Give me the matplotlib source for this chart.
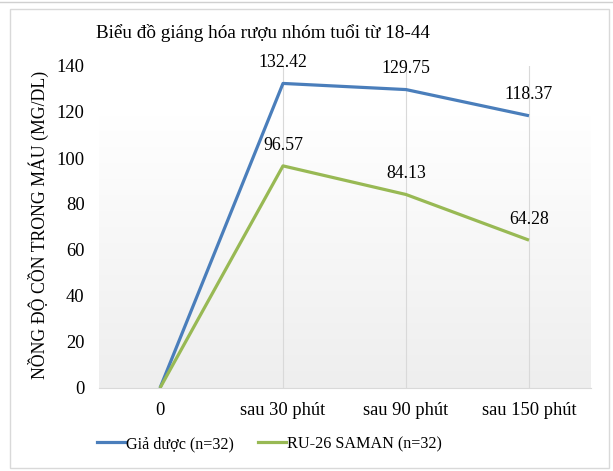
import matplotlib
matplotlib.use("Agg")
import matplotlib.pyplot as plt
import numpy as np
from matplotlib.patches import Rectangle
from matplotlib.lines import Line2D
from matplotlib.colors import LinearSegmentedColormap

categories = ["0", "sau 30 phút", "sau 90 phút", "sau 150 phút"]
placebo = [0, 132.42, 129.75, 118.37]
ru26 = [0, 96.57, 84.13, 64.28]
placebo_labels = ["", "132.42", "129.75", "118.37"]
ru26_labels = ["", "96.57", "84.13", "64.28"]
series_names = ["Giả dược (n=32)", "RU-26 SAMAN (n=32)"]
title = "Biểu đồ giáng hóa rượu nhóm tuổi từ 18-44"
ylabel = "NỒNG ĐỘ CỒN TRONG MÁU (MG/DL)"

plt.rcParams['font.family'] = ['Liberation Serif', 'DejaVu Serif']

W, H = 613, 471
fig = plt.figure(figsize=(W/100, H/100), dpi=100)
fig.patch.set_facecolor('white')

# outer frame
fig.add_artist(Rectangle((10/W, 1 - 468/H), 599/W, 459/H, transform=fig.transFigure,
                         fill=False, edgecolor='#d9d9d9', linewidth=1))
fig.add_artist(Line2D([0, 1], [1 - 2/H, 1 - 2/H], transform=fig.transFigure,
                      color='#d0d0d0', linewidth=1))

left, right = 98.5/W, 590.5/W
bottom, top = 1 - 388/H, 1 - 66/H
ax = fig.add_axes([left, bottom, right - left, top - bottom])

x = np.arange(len(categories))
ax.set_xlim(-0.5, len(categories) - 0.5)
ax.set_ylim(0, 140)

# gradient background
grad = np.linspace(0, 1, 256)[:, None]
grad = np.clip(grad / 0.85, 0, 1)
cmap = LinearSegmentedColormap.from_list('g', ['#eeeeee', '#ffffff'])
ax.imshow(grad, extent=[-0.5, len(categories) - 0.5, 0, 140], origin='lower',
          aspect='auto', cmap=cmap, zorder=0)
ax.set_facecolor('white')

for xi in x[1:]:
    ax.axvline(xi, color='#d9d9d9', linewidth=0.8, zorder=1)

blue = '#4a7ebb'
green = '#98b954'
ax.plot(x, placebo, color=blue, linewidth=2.3, zorder=3, solid_capstyle='butt')
ax.plot(x, ru26, color=green, linewidth=2.3, zorder=3, solid_capstyle='butt')

for xi, v, lab in zip(x, placebo, placebo_labels):
    if lab:
        ax.annotate(lab, (xi, v), xytext=(0, 15), textcoords='offset points',
                    ha='center', va='center', fontsize=12.8, color='#000000')
for xi, v, lab in zip(x, ru26, ru26_labels):
    if lab:
        ax.annotate(lab, (xi, v), xytext=(0, 15), textcoords='offset points',
                    ha='center', va='center', fontsize=12.8, color='#000000')

for s in ['top', 'right', 'left']:
    ax.spines[s].set_visible(False)
ax.spines['bottom'].set_color('#d9d9d9')
ax.spines['bottom'].set_linewidth(0.8)

ax.set_yticks(np.arange(0, 141, 20))
ax.set_xticks(x)
ax.set_xticklabels(categories)
ax.tick_params(axis='both', length=0, labelsize=13.3, colors='#000000')
ax.tick_params(axis='y', pad=10)
ax.tick_params(axis='x', pad=10)

fig.text(38/W, 1 - 225/H, ylabel, rotation=90, ha='center', va='center', fontsize=12.8)
fig.text(263/W, 1 - 33/H, title, ha='center', va='center', fontsize=13.8)

handles = [Line2D([], [], color=blue, linewidth=2.3),
           Line2D([], [], color=green, linewidth=2.3)]
fig.legend(handles, series_names, loc='center', bbox_to_anchor=(269/W, 1 - 444/H),
           ncol=2, frameon=False, fontsize=11.6, handlelength=1.75, handletextpad=0.05,
           columnspacing=1.5)

fig.savefig('out.png', dpi=100)
